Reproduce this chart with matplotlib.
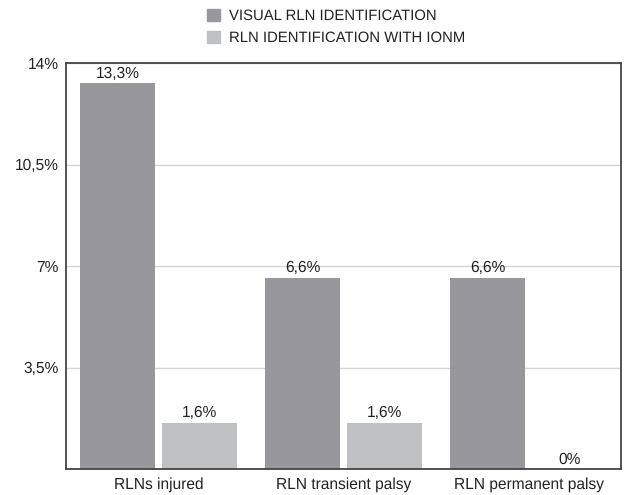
import matplotlib
matplotlib.use("Agg")
import matplotlib.pyplot as plt
import numpy as np
from matplotlib.patches import Patch

plt.rcParams['font.family'] = ['Liberation Sans', 'DejaVu Sans']
plt.rcParams['text.hinting'] = 'no_hinting'

categories = ["RLNs injured", "RLN transient palsy", "RLN permanent palsy"]
series_names = ["VISUAL RLN IDENTIFICATION", "RLN IDENTIFICATION WITH IONM"]
visual = [13.3, 6.6, 6.6]
ionm = [1.6, 1.6, 0.0]
yticks = [3.5, 7, 10.5, 14]
ytick_labels = ["3,5%", "7%", "10,5%", "14%"]

c_dark = "#98989c"
c_light = "#bfc0c2"

fig = plt.figure(figsize=(6.24, 4.95), dpi=100)
ax = fig.add_axes([66/624, 1-469/495, (621-66)/624, (469-63)/495])

x = np.arange(len(categories))
w = 0.41
off = 0.222
b1 = ax.bar(x - off, visual, w, color=c_dark, zorder=2)
b2 = ax.bar(x + off, ionm, w, color=c_light, zorder=2)

def fmt(v):
    s = f"{v:.1f}".replace(".", ",")
    if s.endswith(",0"):
        s = s[:-2]
    return s + "%"

fs = 11.2
for bars, vals in ((b1, visual), (b2, ionm)):
    for r, v in zip(bars, vals):
        ax.annotate(fmt(v), (r.get_x() + r.get_width()/2, v), xytext=(0, 1.5),
                    textcoords="offset points", ha="center", va="bottom",
                    fontsize=fs, color="#222222")

ax.set_xlim(-0.5, 2.5)
ax.set_ylim(0, 14)
ax.set_yticks(yticks)
ax.set_yticklabels(ytick_labels, fontsize=fs, color="#222222")
ax.set_xticks(x)
ax.set_xticklabels(categories, fontsize=fs, color="#222222")
ax.tick_params(axis="y", length=0, pad=5.5)
ax.tick_params(axis="x", length=0, pad=5.5)
ax.yaxis.grid(True, color="#d4d4d4", linewidth=1, zorder=0)
ax.set_axisbelow(True)
for s in ax.spines.values():
    s.set_color("#444444")
    s.set_linewidth(1.3)

handles = [Patch(color=c_dark), Patch(color=c_light)]
fig.legend(handles, series_names, loc="upper left", bbox_to_anchor=(198/624, 1.0),
           frameon=False, fontsize=10.7, handlelength=0.9, handleheight=0.9,
           handletextpad=0.6, labelspacing=0.5, borderaxespad=0.2,
           labelcolor="#222222")

fig.savefig("out.png", dpi=100)
